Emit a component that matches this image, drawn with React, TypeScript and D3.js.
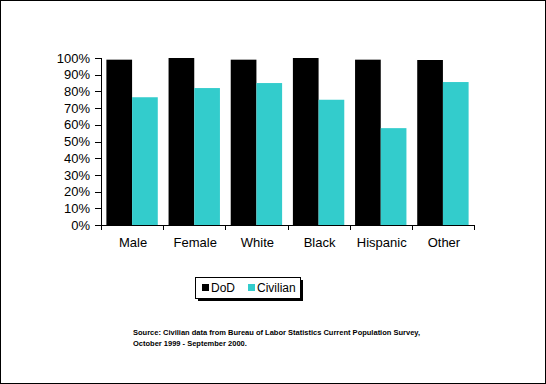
import React from "react";
import * as d3 from "d3";

const categories = ["Male", "Female", "White", "Black", "Hispanic", "Other"];
const seriesNames = ["DoD", "Civilian"];
const dodValues = [0.99, 1.0, 0.99, 1.0, 0.99, 0.988];
const civilianValues = [0.765, 0.82, 0.85, 0.75, 0.58, 0.856];
const yTicks = [0, 0.1, 0.2, 0.3, 0.4, 0.5, 0.6, 0.7, 0.8, 0.9, 1.0];
const sourceLines = [
  "Source:  Civilian data from Bureau of Labor Statistics Current Population Survey,",
  "October 1999 - September 2000.",
];

const colors: Record<string, string> = { DoD: "#000000", Civilian: "#33CCCC" };
const font = "Arial, 'Liberation Sans', sans-serif";

const App: React.FC = () => {
  const width = 546;
  const height = 384;
  const plot = { left: 101, right: 474, top: 58, bottom: 225 };

  const x = d3.scaleBand<string>().domain(categories).range([plot.left, plot.right]);
  const xInner = d3
    .scaleBand<string>()
    .domain(seriesNames)
    .range([0, x.bandwidth()])
    .paddingOuter(0.21);
  const y = d3.scaleLinear().domain([0, 1]).range([plot.bottom, plot.top]);
  const fmt = d3.format(".0%");

  const rows = categories.map((c, i) => ({
    category: c,
    values: [
      { name: "DoD", value: dodValues[i] },
      { name: "Civilian", value: civilianValues[i] },
    ],
  }));

  const boundaries = categories.map((c) => x(c) as number).concat([plot.right]);

  return (
    <div style={{ position: "absolute", left: 0, top: 0 }}>
      <svg width={width} height={height} style={{ display: "block" }}>
        <rect x={0} y={0} width={width} height={height} fill="#fff" />
        <rect x={0.5} y={0.5} width={width - 1} height={height - 1} fill="none" stroke="#000" />

        {rows.map((r) =>
          r.values.map((v) => (
            <rect
              key={r.category + v.name}
              x={(x(r.category) as number) + (xInner(v.name) as number)}
              y={y(v.value)}
              width={xInner.bandwidth()}
              height={plot.bottom - y(v.value)}
              fill={colors[v.name]}
            />
          ))
        )}

        {/* y axis */}
        <line x1={plot.left + 0.5} x2={plot.left + 0.5} y1={plot.top} y2={plot.bottom + 1} stroke="#000" />
        {yTicks.map((t) => (
          <g key={t}>
            <line x1={95} x2={plot.left} y1={Math.round(y(t)) + 0.5} y2={Math.round(y(t)) + 0.5} stroke="#000" />
            <text
              x={90}
              y={y(t)}
              dy="0.36em"
              textAnchor="end"
              fontFamily={font}
              fontSize={13}
              fill="#000"
            >
              {fmt(t)}
            </text>
          </g>
        ))}

        {/* x axis */}
        <line x1={plot.left} x2={plot.right + 1} y1={plot.bottom + 0.5} y2={plot.bottom + 0.5} stroke="#000" />
        {boundaries.map((b, i) => (
          <line
            key={i}
            x1={Math.round(b) + 0.5}
            x2={Math.round(b) + 0.5}
            y1={plot.bottom}
            y2={plot.bottom + 5}
            stroke="#000"
          />
        ))}
        {categories.map((c) => (
          <text
            key={c}
            x={(x(c) as number) + x.bandwidth() / 2 + 1}
            y={247}
            textAnchor="middle"
            fontFamily={font}
            fontSize={13}
            fill="#000"
          >
            {c}
          </text>
        ))}

        {/* legend */}
        <g>
          <rect x={198} y={280} width={105} height={21} fill="#000" />
          <rect x={195.5} y={277.5} width={105} height={21} fill="#fff" stroke="#000" />
          {seriesNames.map((s, i) => {
            const lx = i === 0 ? 202 : 248;
            return (
              <g key={s}>
                <rect x={lx} y={284} width={7} height={7} fill={colors[s]} />
                <text x={lx + 9} y={292} fontFamily={font} fontSize={12} fill="#000">
                  {s}
                </text>
              </g>
            );
          })}
        </g>

        {/* source note */}
        {sourceLines.map((l, i) => (
          <text
            key={i}
            x={133}
            y={335 + i * 11}
            fontFamily={font}
            fontSize={7.5}
            fontWeight="bold"
            fill="#000"
          >
            {l}
          </text>
        ))}
      </svg>
    </div>
  );
};

export default App;
